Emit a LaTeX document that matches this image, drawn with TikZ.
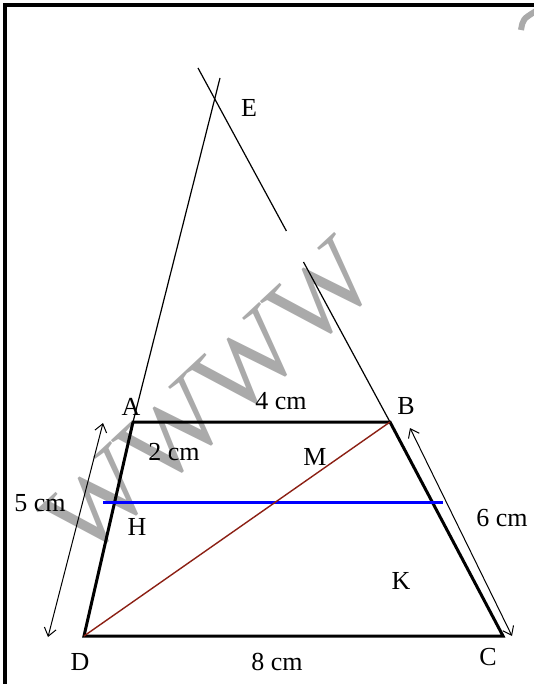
\documentclass[tikz,border=0pt]{standalone}
\usepackage{fontspec}
\setmainfont{Liberation Serif}
\usetikzlibrary{arrows.meta}
\definecolor{wmgray}{RGB}{170,170,170}
\definecolor{diagbrown}{RGB}{140,32,20}
\begin{document}
\begin{tikzpicture}[x=1pt,y=-1pt,
  lbl/.style={inner sep=0pt, font=\fontsize{26}{30}\selectfont},
  thickln/.style={line width=3pt, line join=miter},
  thinln/.style={line width=1.2pt},
  dimarrow/.style={line width=1pt, {Straight Barb[length=8pt,width=12pt]}-{Straight Barb[length=8pt,width=12pt]}}]
\useasboundingbox (0,0) rectangle (534,684);
\fill[white] (0,0) rectangle (534,684);
% watermark
\node[rotate=43, text=wmgray, font=\fontsize{108}{110}\selectfont, inner sep=0pt] (wm) at (210,398) {WWWW};
\coordinate (wa) at (521,30);
\coordinate (wb) at (536,11);
\draw[wmgray, line width=6pt] (wa) .. controls (523,19) .. (wb);
% frame
\coordinate (f1) at (5,700);
\coordinate (f2) at (5,5);
\coordinate (f3) at (540,5);
\draw[line width=4pt] (f1) -- (f2) -- (f3);
% points
\coordinate (A) at (133,422);
\coordinate (B) at (390,422);
\coordinate (C) at (503,636);
\coordinate (D) at (84,636);
\coordinate (Lt) at (220,78);
\coordinate (Rt) at (198,68);
\coordinate (R1) at (286.4,231);
\coordinate (R2) at (303.5,262);
\coordinate (H1) at (103,502);
\coordinate (H2) at (443,502);
\coordinate (la1) at (48,637);
\coordinate (la2) at (103,423);
\coordinate (ra1) at (410,428);
\coordinate (ra2) at (512,636);
% extensions
\draw[thinln] (A) -- (Lt);
\draw[thinln] (Rt) -- (R1);
\draw[thinln] (R2) -- (B);
% trapezoid
\draw[thickln] (A) -- (B) -- (C) -- (D) -- cycle;
% blue segment
\draw[blue, line width=3pt] (H1) -- (H2);
% diagonal
\draw[diagbrown, line width=1.4pt] (D) -- (B);
% dimension arrows
\draw[dimarrow] (la1) -- (la2);
\draw[dimarrow] (ra1) -- (ra2);
% labels
\node[lbl] (lA) at (131,407) {A};
\node[lbl] (lB) at (406,406) {B};
\node[lbl] (lC) at (488,657) {C};
\node[lbl] (lD) at (80,662) {D};
\node[lbl] (lE) at (249,108) {E};
\node[lbl] (lM) at (315,457) {M};
\node[lbl] (lH) at (137,527) {H};
\node[lbl] (lK) at (401,581) {K};
\node[lbl] (l4) at (281,401) {4 cm};
\node[lbl] (l2) at (174,452) {2 cm};
\node[lbl] (l8) at (277,662) {8 cm};
\node[lbl] (l5) at (40,503) {5 cm};
\node[lbl] (l6) at (502,518) {6 cm};
\end{tikzpicture}
\end{document}
